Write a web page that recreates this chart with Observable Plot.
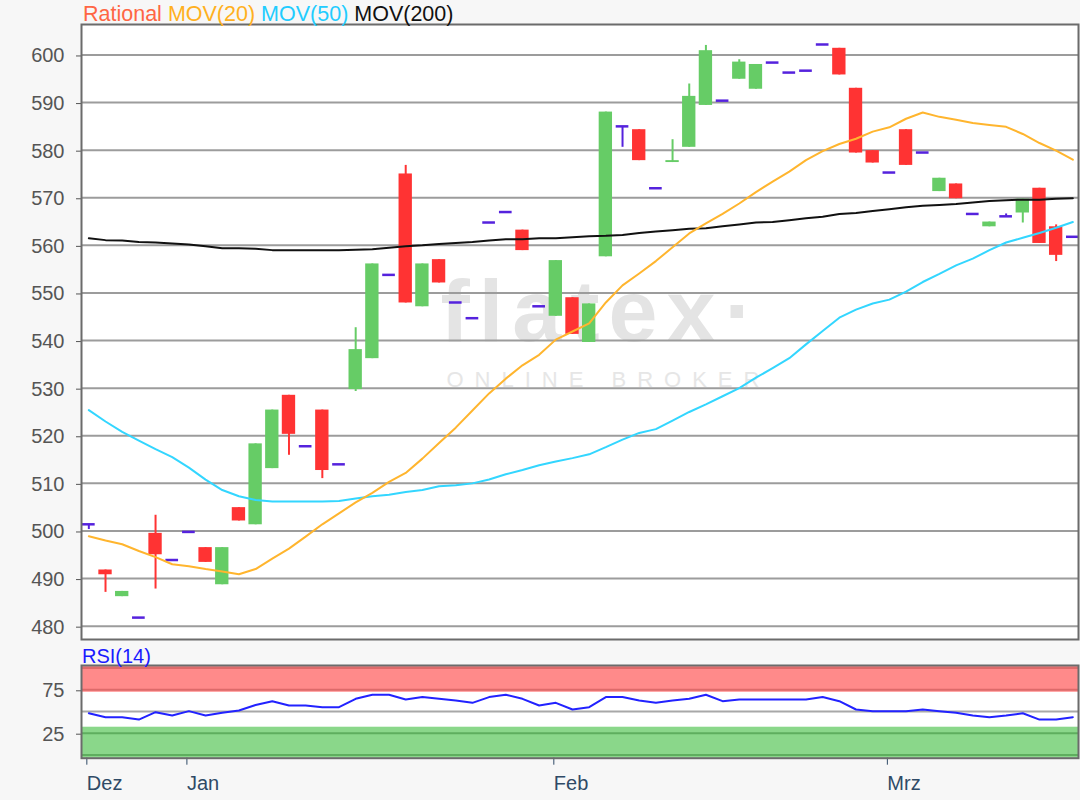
<!DOCTYPE html>
<html><head><meta charset="utf-8">
<script src="https://cdn.jsdelivr.net/npm/d3@7"></script>
<script src="https://cdn.jsdelivr.net/npm/@observablehq/plot@0.6"></script>
<style>
body{margin:0;background:#f7f7f7;font-family:"Liberation Sans",Arial,sans-serif;}
#wrap{position:relative;width:1080px;height:800px;overflow:hidden;}
#main{position:absolute;left:0;top:0;}
#rsi{position:absolute;left:0;top:660px;}
#legend{position:absolute;left:83px;top:2px;font-size:21.5px;line-height:24px;white-space:nowrap;}
#rsiLabel{position:absolute;left:82px;top:644px;font-size:20px;line-height:24px;color:#1a1aff;}
.wm1 text{letter-spacing:9px;}
.wm2 text{letter-spacing:11px;}
</style></head><body>
<div id="wrap">
<div id="main"></div>
<div id="rsi"></div>
<div id="legend"><span style="color:#ff6644">Rational</span> <span style="color:#ffb020">MOV(20)</span> <span style="color:#22ccff">MOV(50)</span> <span style="color:#111">MOV(200)</span></div>
<div id="rsiLabel">RSI(14)</div>
</div>
<script>
// ---- data ----
const opens  = [501.4,491.8,486.2,481.8,499.5,493.9,499.8,496.5,488.7,504.9,501.3,513.1,528.5,517.8,525.4,514.0,529.7,536.2,553.8,575.0,547.1,557.0,548.0,544.7,564.8,567.0,563.2,547.2,545.1,549.0,539.6,557.6,585.0,584.3,572.0,577.4,580.6,589.4,590.4,594.9,592.8,598.4,596.3,596.7,602.2,601.4,593.0,579.9,575.3,584.3,579.5,571.3,572.9,566.6,563.9,566.1,566.8,572.0,563.9,561.8];
const highs  = [501.4,491.8,487.3,481.8,503.3,493.9,499.8,496.5,496.5,504.9,518.3,525.4,528.5,517.8,525.4,514.0,542.7,556.1,553.8,576.8,556.1,557.0,548.0,544.7,564.8,567.0,563.2,547.2,556.8,549.0,547.7,588.0,585.0,584.3,572.0,582.2,593.9,602.0,590.4,599.0,598.0,598.4,596.3,596.7,602.2,601.4,593.0,579.9,575.3,584.3,579.5,574.1,572.9,566.6,564.9,566.6,569.7,572.0,564.3,561.8];
const lows   = [500.3,487.1,486.2,481.8,487.8,493.9,499.8,493.4,488.7,502.1,501.3,513.1,515.9,517.8,511.0,514.0,529.3,536.2,553.8,547.9,547.1,552.1,548.0,544.7,564.8,567.0,558.9,547.2,545.1,541.3,539.6,557.6,580.6,577.8,572.0,577.4,580.6,589.4,590.4,594.9,592.8,598.4,596.3,596.7,602.2,595.8,579.4,577.3,575.3,576.8,579.5,571.3,569.8,566.6,563.9,566.1,564.7,560.4,556.6,561.8];
const closes = [501.4,490.8,487.3,481.8,495.0,493.9,499.8,493.4,496.5,502.1,518.3,525.4,520.3,517.8,512.7,514.0,538.1,556.1,553.8,547.9,556.1,552.1,548.0,544.7,564.8,567.0,558.9,547.2,556.8,541.3,547.7,588.0,585.0,577.8,572.0,577.8,591.3,600.9,590.4,598.5,598.0,598.4,596.3,596.7,602.2,595.8,579.4,577.3,575.3,576.8,579.5,574.1,569.8,566.6,564.9,566.1,569.7,560.4,557.9,561.8];
const mov20  = [498.9,498.0,497.2,495.8,494.5,493.0,492.6,492.0,491.5,490.9,492.0,494.2,496.3,498.8,501.4,503.7,506.0,508.0,510.3,512.2,515.2,518.5,521.7,525.3,528.9,532.0,534.8,537.0,540.2,541.9,543.6,548.0,551.6,554.1,556.7,559.6,562.5,564.6,566.6,568.8,571.2,573.4,575.5,577.9,579.8,581.3,582.4,583.9,584.8,586.6,587.9,587.0,586.4,585.7,585.3,584.9,583.4,581.5,579.9,578.0];
const mov50  = [525.4,523.0,520.8,519.0,517.2,515.5,513.3,510.8,508.6,507.3,506.5,506.2,506.2,506.2,506.2,506.3,506.8,507.3,507.6,508.2,508.6,509.4,509.6,510.0,510.8,511.9,512.8,513.8,514.6,515.3,516.1,517.6,519.2,520.6,521.4,523.2,525.0,526.6,528.3,530.0,532.2,534.2,536.3,539.2,542.0,544.8,546.5,547.8,548.6,550.3,552.3,554.0,555.8,557.2,559.0,560.6,561.6,562.6,563.7,564.9];
const mov200 = [561.5,561.1,561.0,560.7,560.6,560.4,560.2,559.8,559.4,559.4,559.3,559.0,559.0,559.0,559.0,559.0,559.1,559.2,559.5,559.8,560.0,560.3,560.5,560.7,561.0,561.3,561.3,561.5,561.5,561.7,561.9,562.0,562.2,562.6,562.9,563.2,563.5,563.6,564.0,564.4,564.8,564.9,565.3,565.7,566.0,566.6,566.8,567.2,567.6,568.0,568.3,568.5,568.7,569.0,569.3,569.5,569.6,569.6,569.8,569.9];
const rsi14  = [48.0,43.4,43.4,40.7,49.2,45.3,50.4,45.3,48.5,51.1,57.5,61.9,56.9,56.9,55.0,55.0,64.6,69.3,69.3,63.8,66.6,64.6,62.7,60.0,66.6,69.3,64.6,56.9,60.0,52.3,55.0,66.6,66.6,62.7,60.0,62.7,64.6,69.3,61.9,63.8,63.8,63.8,63.8,63.8,66.6,61.9,52.3,50.4,50.4,50.4,52.3,50.4,48.5,45.3,43.4,45.3,48.0,40.7,40.7,43.4];
const monthTicks  = [0, 6, 28, 48];
const monthLabels = ["Dez", "Jan", "Feb", "Mrz"];
const priceTicks  = d3.range(480, 601, 10);
const rsiTicks    = [25, 75];
const rsiBands    = [{lo: 72.2, hi: 103.0, fill: "#ff8a8a"}, {lo: -3.8, hi: 31.9, fill: "#8ad78a"}];
const rsiLines    = [{v: 100, c: "#dd6a6a"}, {v: 75, c: "#dd6a6a"}, {v: 50, c: "#a8a8a8"}, {v: 25, c: "#5eae5e"}, {v: 0, c: "#5eae5e"}];

// ---- build ----
const candles = opens.map((o, i) => ({i, o, h: highs[i], l: lows[i], c: closes[i],
  kind: closes[i] > o ? "up" : closes[i] < o ? "down" : "flat"}));
const kindColor = {up: "#66cc66", down: "#ff3333", flat: "#5522dd"};
const xDomain = [-0.44, 59.34];
const font = '"Liberation Sans", Arial, sans-serif';
const idx = (d, i) => i;

const main = Plot.plot({
  width: 1080, height: 645, marginTop: 24, marginBottom: 6, marginLeft: 81, marginRight: 2,
  style: {fontFamily: font, fontSize: "20px", background: "transparent", overflow: "visible"},
  x: {domain: xDomain, axis: null},
  y: {domain: [477.2, 606.4]},
  color: {type: "identity"},
  marks: [
    Plot.frame({fill: "white", stroke: null}),
    Plot.text(["flatex·"], {text: d => d, frameAnchor: "left", dx: 359, dy: -19.5, textAnchor: "start", fontSize: 88, fontWeight: "bold", fill: "#e4e4e4", className: "wm1"}),
    Plot.text(["ONLINE BROKER"], {text: d => d, frameAnchor: "left", dx: 365, dy: 47.5, textAnchor: "start", fontSize: 22, fill: "#e6e6e6", className: "wm2"}),
    Plot.ruleY(priceTicks, {stroke: "#9c9c9c", strokeWidth: 2}),
    Plot.axisY({ticks: priceTicks, tickSize: 5, tickPadding: 12, color: "#555", fontSize: 20, dy: 1, label: null}),
    Plot.ruleX(candles, {x: "i", y1: "l", y2: "h", stroke: d => kindColor[d.kind], strokeWidth: 2}),
    Plot.rect(candles.filter(d => d.kind !== "flat"), {x1: d => d.i - 0.4, x2: d => d.i + 0.4, y1: "o", y2: "c", fill: d => kindColor[d.kind]}),
    Plot.ruleY(candles.filter(d => d.kind === "flat"), {y: "o", x1: d => d.i - 0.38, x2: d => d.i + 0.38, stroke: kindColor.flat, strokeWidth: 2.5}),
    Plot.line(mov200, {x: idx, y: d => d, stroke: "#111", strokeWidth: 2}),
    Plot.line(mov50, {x: idx, y: d => d, stroke: "#33d6ff", strokeWidth: 2}),
    Plot.line(mov20, {x: idx, y: d => d, stroke: "#ffb52e", strokeWidth: 2}),
    Plot.frame({stroke: "#6b6b6b", strokeWidth: 2})
  ]
});
document.getElementById("main").append(main);

const rsiPlot = Plot.plot({
  width: 1080, height: 140, marginTop: 5, marginBottom: 42.3, marginLeft: 81, marginRight: 2,
  style: {fontFamily: font, fontSize: "20px", background: "transparent", overflow: "visible"},
  x: {domain: xDomain},
  y: {domain: [-3.8, 103.0]},
  color: {type: "identity"},
  marks: [
    Plot.frame({fill: "white", stroke: null}),
    Plot.rect(rsiBands, {y1: "lo", y2: "hi", fill: "fill"}),
    Plot.ruleY(rsiLines, {y: "v", stroke: "c", strokeWidth: 2}),
    Plot.line(rsi14, {x: idx, y: d => d, stroke: "#2222ff", strokeWidth: 2}),
    Plot.axisY({ticks: rsiTicks, tickSize: 5, tickPadding: 12, color: "#555", fontSize: 20, dy: 1, label: null}),
    Plot.axisX({ticks: monthTicks, tickFormat: d => monthLabels[monthTicks.indexOf(d)], tickSize: 7, tickPadding: 11,
      textAnchor: "start", dx: -2, color: "#2f4a66", fontSize: 20, label: null}),
    Plot.frame({stroke: "#6b6b6b", strokeWidth: 2})
  ]
});
document.getElementById("rsi").append(rsiPlot);
</script>
</body></html>
